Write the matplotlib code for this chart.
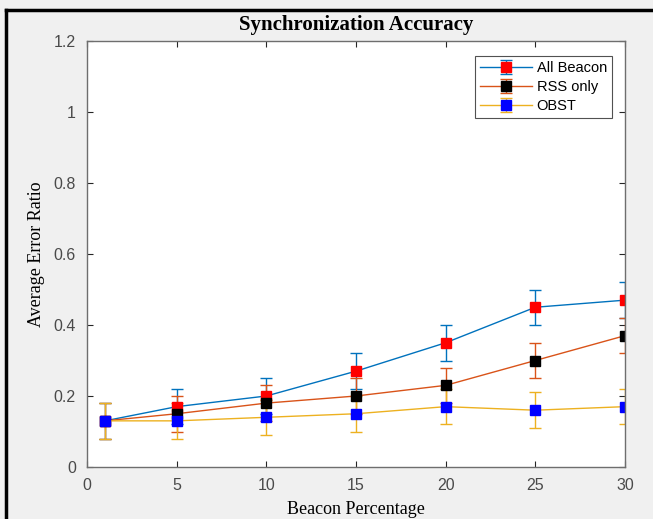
import matplotlib
matplotlib.use("Agg")
import matplotlib.pyplot as plt
from matplotlib.lines import Line2D

x = [1, 5, 10, 15, 20, 25, 30]
all_beacon = [0.13, 0.17, 0.20, 0.27, 0.35, 0.45, 0.47]
rss_only = [0.13, 0.15, 0.18, 0.20, 0.23, 0.30, 0.37]
obst = [0.13, 0.13, 0.14, 0.15, 0.17, 0.16, 0.17]
err_all = [0.05, 0.05, 0.05, 0.05, 0.05, 0.05, 0.05]
err_rss = [0.05, 0.05, 0.05, 0.05, 0.05, 0.05, 0.05]
err_obst = [0.05, 0.05, 0.05, 0.05, 0.05, 0.05, 0.05]
labels = ["All Beacon", "RSS only", "OBST"]

W, H = 653, 519
fig = plt.figure(figsize=(W / 100, H / 100), dpi=100, facecolor="#f0f0f0")
ax = fig.add_axes([87 / W, 1 - 467 / H, (625 - 87) / W, (467 - 41) / H])
ax.set_facecolor("white")

series = [
    (all_beacon, err_all, "#0072BD", "red"),
    (rss_only, err_rss, "#D95319", "black"),
    (obst, err_obst, "#EDB120", "blue"),
]
for (y, e, lc, mc), lab in zip(series, labels):
    ax.errorbar(x, y, yerr=e, color=lc, lw=1.0, marker="s", ms=6.5,
                mfc=mc, mec=mc, capsize=4.3, capthick=1.0, elinewidth=1.0,
                label=lab)

ax.set_xlim(0, 30)
ax.set_ylim(0, 1.2)
ax.set_xticks([0, 5, 10, 15, 20, 25, 30])
ax.set_yticks([0, 0.2, 0.4, 0.6, 0.8, 1.0, 1.2])
ax.set_yticklabels(["0", "0.2", "0.4", "0.6", "0.8", "1", "1.2"])
ax.tick_params(direction="in", top=True, right=True, length=4, width=0.8,
               color="#262626", labelsize=11.5, labelcolor="#4a4a4a", pad=8)
for lbl in ax.get_xticklabels() + ax.get_yticklabels():
    lbl.set_family("Liberation Sans")
for s in ax.spines.values():
    s.set_color("#6e6e6e")
    s.set_linewidth(1.0)

ax.set_title("Synchronization Accuracy", family="Liberation Serif",
             fontweight="bold", fontsize=15, pad=8)
ax.set_xlabel("Beacon Percentage", family="Liberation Serif", fontsize=13,
              labelpad=6)
ax.set_ylabel("Average Error Ratio", family="Liberation Serif", fontsize=13,
              labelpad=6)

leg = ax.legend(loc="upper right", bbox_to_anchor=(0.976, 0.965),
                prop={"family": "Liberation Sans", "size": 10.5},
                frameon=True, fancybox=False, edgecolor="#262626",
                borderpad=0.35, labelspacing=0.35, handlelength=3.6,
                handletextpad=0.3, borderaxespad=0)
leg.get_frame().set_linewidth(0.8)

fig.add_artist(Line2D([6 / W, 1], [1 - 10 / H, 1 - 10 / H], color="black",
                      lw=2.5, transform=fig.transFigure))
fig.add_artist(Line2D([6 / W, 6 / W], [0, 1 - 10 / H], color="black",
                      lw=2.5, transform=fig.transFigure))

fig.savefig("out.png", dpi=100, facecolor=fig.get_facecolor())
